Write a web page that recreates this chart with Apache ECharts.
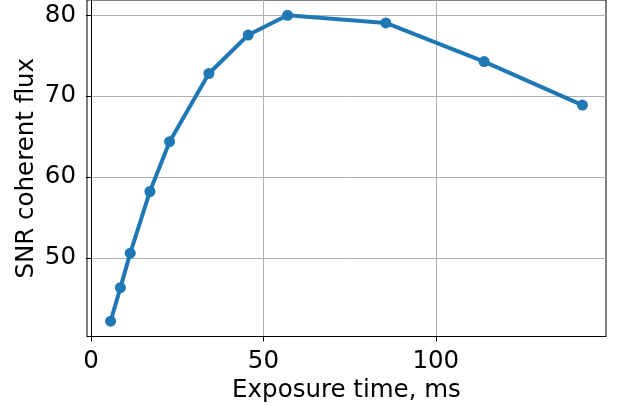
<!DOCTYPE html>
<html lang="en" style="height: 100%">

<head>
  <meta charset="utf-8" />
</head>

<body style="height: 100%; margin: 0; background: #fff">
  <div id="container" style="width: 618px; height: 406px"></div>

  <script type="text/javascript" src="https://cdn.jsdelivr.net/npm/echarts@6/dist/echarts.min.js"></script>

  <script type="text/javascript">
    // exposure time (ms) and SNR of the coherent flux
    var exposureTime = [5.7, 8.55, 11.4, 17.1, 22.8, 34.2, 45.6, 57.0, 85.5, 114.0, 142.5];
    var snrFlux = [42.15, 46.3, 50.57, 58.2, 64.36, 72.8, 77.56, 80.0, 79.05, 74.27, 68.89];

    var xTicks = [0, 50, 100];
    var yTicks = [50, 60, 70, 80];

    var FONT = "DejaVu Sans";
    var BLUE = "#1f77b4";

    var points = exposureTime.map(function (t, i) {
      return [t, snrFlux[i]];
    });

    // matplotlib style 5% padding round the data
    function padMin(v) { return v.min - 0.05 * (v.max - v.min); }
    function padMax(v) { return v.max + 0.05 * (v.max - v.min); }

    var dom = document.getElementById("container");
    var myChart = echarts.init(dom, null, { renderer: "canvas" });

    var option = {
      animation: false,
      backgroundColor: "#fff",
      grid: {
        left: 87,
        right: 12,
        top: 0,
        bottom: 69.5,
        outerBoundsMode: "none",
        show: true,
        borderColor: "#000",
        borderWidth: 1,
      },
      xAxis: {
        type: "value",
        min: padMin,
        max: padMax,
        name: "Exposure time, ms",
        nameLocation: "middle",
        nameGap: 42,
        nameMoveOverlap: false,
        nameTextStyle: { fontFamily: FONT, fontSize: 24.5, color: "#000" },
        axisLine: { show: true, lineStyle: { color: "#000", width: 1 } },
        axisTick: {
          show: true,
          length: 5,
          customValues: xTicks,
          lineStyle: { color: "#000", width: 1 },
        },
        axisLabel: {
          customValues: xTicks,
          margin: 13,
          fontFamily: FONT,
          fontSize: 24.5,
          color: "#000",
        },
        splitLine: { show: true, lineStyle: { color: "#b0b0b0", width: 1 } },
      },
      yAxis: {
        type: "value",
        min: padMin,
        max: padMax,
        name: "SNR coherent flux",
        nameLocation: "middle",
        nameRotate: 90,
        nameGap: 48,
        nameMoveOverlap: false,
        nameTextStyle: { fontFamily: FONT, fontSize: 24.5, color: "#000" },
        axisLine: { show: true, lineStyle: { color: "#000", width: 1 } },
        axisTick: {
          show: true,
          length: 5,
          customValues: yTicks,
          lineStyle: { color: "#000", width: 1 },
        },
        axisLabel: {
          customValues: yTicks,
          margin: 11,
          fontFamily: FONT,
          fontSize: 24.5,
          color: "#000",
        },
        splitLine: { show: true, lineStyle: { color: "#b0b0b0", width: 1 } },
      },
      series: [
        {
          type: "line",
          data: points,
          symbol: "circle",
          symbolSize: 11,
          lineStyle: { color: BLUE, width: 4 },
          itemStyle: { color: BLUE },
          clip: false,
        },
      ],
    };

    myChart.setOption(option);
    window.addEventListener("resize", myChart.resize);
  </script>
</body>

</html>
